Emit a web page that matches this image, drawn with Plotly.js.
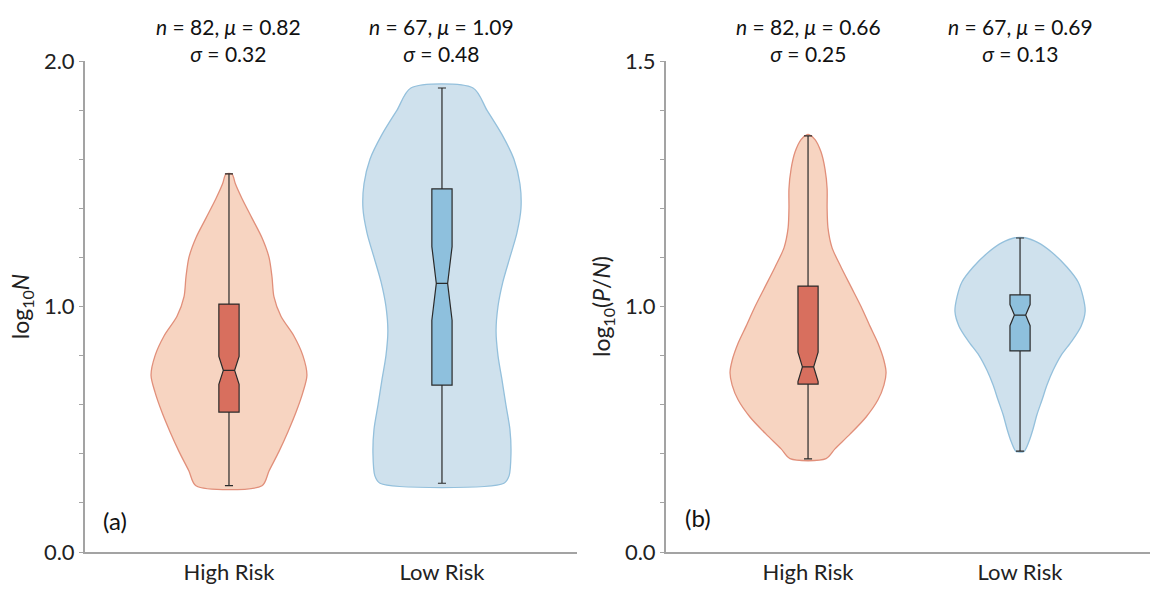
<!DOCTYPE html>
<html>
<head>
<meta charset="utf-8">
<script src="https://cdn.plot.ly/plotly-3.0.1.min.js"></script>
<style>html,body{margin:0;padding:0;background:#fff;}#chart{width:1150px;height:590px;}</style>
</head>
<body>
<div id="chart"></div>
<script>
// ---------- data ----------
const categories = ['High Risk', 'Low Risk'];

// Violin outlines: value levels and half-widths (in units of category spacing)
// Panel (a): log10 N
const aHighY = [0.27, 0.33, 0.41, 0.49, 0.57, 0.65, 0.72, 0.80, 0.88, 0.96, 1.04, 1.12, 1.20, 1.28, 1.36, 1.44, 1.50, 1.54];
const aHighW = [0.155, 0.188, 0.235, 0.277, 0.315, 0.347, 0.366, 0.347, 0.305, 0.244, 0.211, 0.202, 0.188, 0.155, 0.108, 0.061, 0.030, 0.014];
const aLowY  = [0.28, 0.31, 0.40, 0.50, 0.60, 0.70, 0.80, 0.90, 1.00, 1.10, 1.20, 1.30, 1.40, 1.50, 1.60, 1.70, 1.80, 1.89];
const aLowW  = [0.291, 0.315, 0.324, 0.319, 0.300, 0.282, 0.263, 0.254, 0.263, 0.286, 0.319, 0.352, 0.371, 0.366, 0.338, 0.282, 0.211, 0.146];
// Panel (b): log10 (P/N)
const bHighY = [0.38, 0.42, 0.48, 0.55, 0.62, 0.68, 0.73, 0.78, 0.85, 0.92, 1.00, 1.08, 1.16, 1.24, 1.32, 1.40, 1.48, 1.56, 1.63, 1.68, 1.70];
const bHighW = [0.085, 0.127, 0.198, 0.274, 0.330, 0.358, 0.368, 0.358, 0.330, 0.292, 0.250, 0.203, 0.156, 0.113, 0.094, 0.090, 0.090, 0.080, 0.061, 0.033, 0.004];
const bLowY  = [0.41, 0.45, 0.50, 0.56, 0.62, 0.68, 0.74, 0.80, 0.86, 0.92, 0.98, 1.04, 1.10, 1.16, 1.22, 1.26, 1.28];
const bLowW  = [0.019, 0.042, 0.061, 0.080, 0.104, 0.127, 0.156, 0.193, 0.245, 0.288, 0.307, 0.297, 0.274, 0.222, 0.151, 0.085, 0.024];

// Box statistics [High Risk, Low Risk]
const aLowerFence = [0.27, 0.28];
const aQ1         = [0.57, 0.68];
const aMedian     = [0.74, 1.094];
const aQ3         = [1.01, 1.479];
const aUpperFence = [1.54, 1.89];
const aNotch      = [0.057, 0.15];

const bLowerFence = [0.379, 0.411];
const bQ1         = [0.684, 0.819];
const bMedian     = [0.754, 0.965];
const bQ3         = [1.083, 1.047];
const bUpperFence = [1.695, 1.279];
const bNotch      = [0.06, 0.043];

// Summary labels
const aN = [82, 67], aMu = ['0.82', '1.09'], aSigma = ['0.32', '0.48'];
const bN = [82, 67], bMu = ['0.66', '0.69'], bSigma = ['0.25', '0.13'];

// Axis ticks
const yTickVals = [0, 1, 2];
const aTickText = ['0.0', '1.0', '2.0'];
const bTickText = ['0.0', '1.0', '1.5'];
const yMinorStep = 0.2;

// ---------- styling ----------
const FONT = 'Lato, "Open Sans", sans-serif';
const violinFill = ['rgb(247,212,193)', 'rgb(207,225,237)'];
const violinLine = ['rgb(225,143,122)', 'rgb(148,192,220)'];
const boxFill = ['rgb(216,111,94)', 'rgb(142,192,221)'];

function violin(center, ys, ws, idx, xa, ya) {
  const x = [], y = [];
  for (let i = 0; i < ys.length; i++) { x.push(center - ws[i]); y.push(ys[i]); }
  for (let i = ys.length - 1; i >= 0; i--) { x.push(center + ws[i]); y.push(ys[i]); }
  x.push(x[0]); y.push(y[0]);
  return {
    type: 'scatter', mode: 'lines', x: x, y: y, xaxis: xa, yaxis: ya,
    fill: 'toself', fillcolor: violinFill[idx],
    line: {color: violinLine[idx], width: 1.3, shape: 'spline', smoothing: 0.8},
    hoverinfo: 'skip', showlegend: false
  };
}

function box(center, idx, lf, q1, med, q3, uf, ns, xa, ya) {
  return {
    type: 'box', orientation: 'v', x: [center], xaxis: xa, yaxis: ya,
    lowerfence: [lf], q1: [q1], median: [med], q3: [q3], upperfence: [uf],
    notchspan: [ns], notched: true, notchwidth: 0.22,
    width: 0.095, whiskerwidth: 0.4,
    fillcolor: boxFill[idx], line: {color: '#2a2a2a', width: 1.2},
    boxpoints: false, showlegend: false, hoverinfo: 'skip'
  };
}

// violins on base subplots, boxes on overlay subplots (drawn above)
const traces = [
  violin(0, aHighY, aHighW, 0, 'x', 'y'),
  violin(1, aLowY, aLowW, 1, 'x', 'y'),
  violin(0, bHighY, bHighW, 0, 'x2', 'y2'),
  violin(1, bLowY, bLowW, 1, 'x2', 'y2'),
];
for (let i = 0; i < 2; i++) {
  traces.push(box(i, i, aLowerFence[i], aQ1[i], aMedian[i], aQ3[i], aUpperFence[i], aNotch[i], 'x', 'y3'));
  traces.push(box(i, i, bLowerFence[i], bQ1[i], bMedian[i], bQ3[i], bUpperFence[i], bNotch[i], 'x2', 'y4'));
}

const annotations = [];
for (let i = 0; i < 2; i++) {
  annotations.push({xref: 'x', yref: 'paper', x: i, y: 1 - 40.5/590, xanchor: 'center', yanchor: 'middle', showarrow: false,
    text: '<i>n</i> = ' + aN[i] + ', <i>μ</i> = ' + aMu[i] + '<br><i>σ</i> = ' + aSigma[i],
    font: {family: FONT, size: 21, color: '#111'}});
  annotations.push({xref: 'x2', yref: 'paper', x: i, y: 1 - 40.5/590, xanchor: 'center', yanchor: 'middle', showarrow: false,
    text: '<i>n</i> = ' + bN[i] + ', <i>μ</i> = ' + bMu[i] + '<br><i>σ</i> = ' + bSigma[i],
    font: {family: FONT, size: 21, color: '#111'}});
}
annotations.push({xref: 'paper', yref: 'paper', x: 101/1150, y: 1 - 520/590, xanchor: 'left', yanchor: 'middle', showarrow: false,
  text: '(a)', font: {family: FONT, size: 24, color: '#111'}});
annotations.push({xref: 'paper', yref: 'paper', x: 683/1150, y: 1 - 517/590, xanchor: 'left', yanchor: 'middle', showarrow: false,
  text: '(b)', font: {family: FONT, size: 24, color: '#111'}});

const yDomain = [1 - 552/590, 1 - 61/590];
const xBase = {
  tickvals: [0, 1], ticktext: categories, ticks: '', showgrid: false, zeroline: false,
  showline: true, linecolor: '#a3a3a3', linewidth: 2,
  tickfont: {family: FONT, size: 22, color: '#222'}, fixedrange: true
};
const yBase = {
  range: [0, 2], tickvals: yTickVals, ticks: 'outside', ticklen: 4, tickwidth: 1, tickcolor: '#a3a3a3',
  minor: {tickmode: 'linear', tick0: 0, dtick: yMinorStep, ticks: 'outside', ticklen: 4, tickwidth: 1, tickcolor: '#a3a3a3', showgrid: false},
  showgrid: false, zeroline: false, showline: true, linecolor: '#a3a3a3', linewidth: 2,
  tickfont: {family: FONT, size: 22, color: '#222'}, fixedrange: true
};
const yOverlay = {
  range: [0, 2], showgrid: false, zeroline: false, showline: false, showticklabels: false, ticks: '', fixedrange: true
};

const layout = {
  width: 1150, height: 590,
  margin: {l: 0, r: 0, t: 0, b: 0},
  paper_bgcolor: '#fff', plot_bgcolor: 'rgba(0,0,0,0)',
  font: {family: FONT, color: '#222'},
  showlegend: false,
  xaxis: Object.assign({}, xBase, {domain: [85/1150, 577/1150], range: [-0.676, 1.634], anchor: 'y'}),
  xaxis2: Object.assign({}, xBase, {domain: [666/1150, 1], range: [-0.670, 1.613], anchor: 'y2'}),
  yaxis: Object.assign({}, yBase, {domain: yDomain, ticktext: aTickText, anchor: 'x',
    title: {text: 'log<sub>10</sub><i>N</i>', font: {family: FONT, size: 23, color: '#222'}, standoff: 8}}),
  yaxis2: Object.assign({}, yBase, {domain: yDomain, ticktext: bTickText, anchor: 'x2',
    title: {text: 'log<sub>10</sub>(<i>P</i>/<i>N</i>)', font: {family: FONT, size: 23, color: '#222'}, standoff: 8}}),
  yaxis3: Object.assign({}, yOverlay, {overlaying: 'y', anchor: 'x'}),
  yaxis4: Object.assign({}, yOverlay, {overlaying: 'y2', anchor: 'x2'}),
  annotations: annotations
};

Plotly.newPlot('chart', traces, layout, {displayModeBar: false, staticPlot: true});
</script>
</body>
</html>
